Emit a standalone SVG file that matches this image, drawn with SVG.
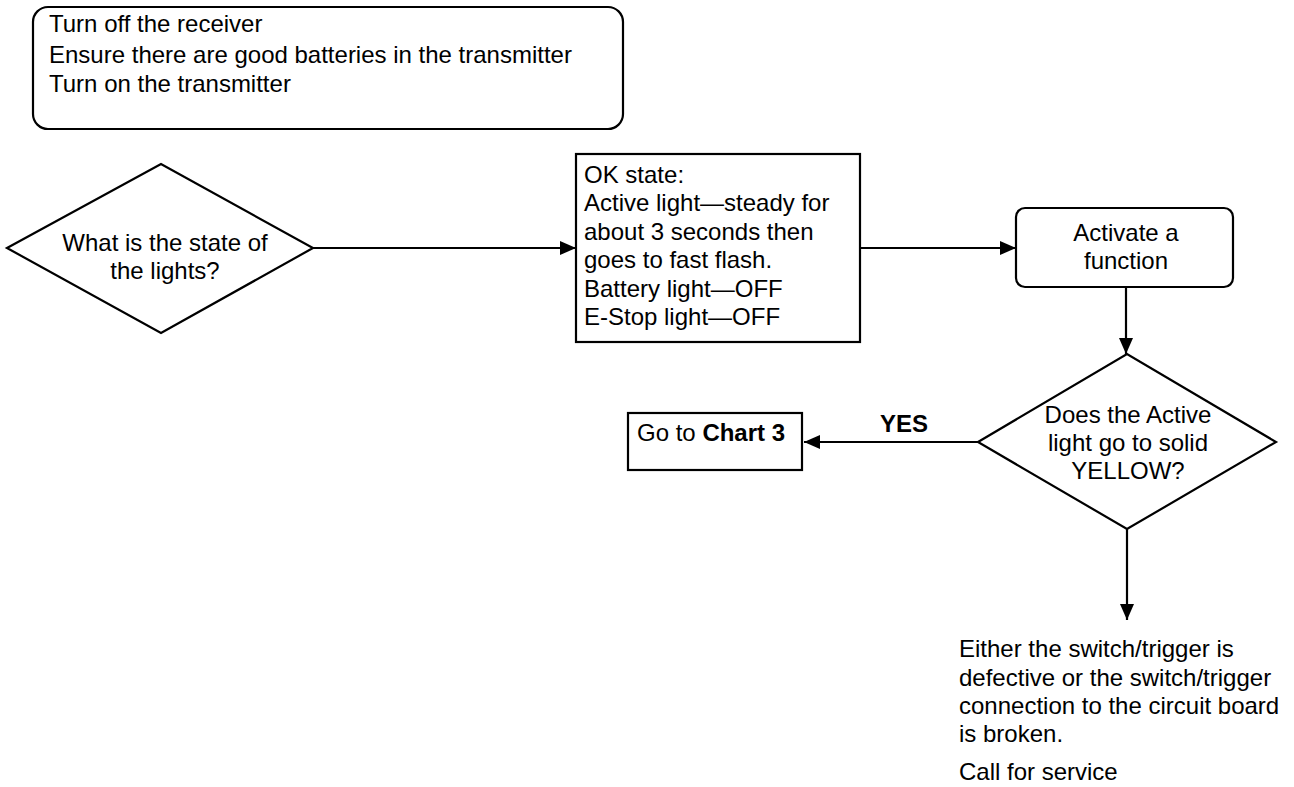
<svg xmlns="http://www.w3.org/2000/svg" width="1294" height="787" viewBox="0 0 1294 787">
<defs>
<marker id="ah" viewBox="0 0 16 14" refX="16" refY="7" markerWidth="16" markerHeight="14" markerUnits="userSpaceOnUse" orient="auto">
<path d="M0,0 L16,7 L0,14 Z" fill="#000"/>
</marker>
<style>
.s{fill:#fff;stroke:#000;stroke-width:2.2}
.t{font-family:"Liberation Sans",Arial,sans-serif;font-size:24px;fill:#000}
.c{text-anchor:middle}
.b{font-weight:bold}
.e{fill:none;stroke:#000;stroke-width:2.2}
</style>
</defs>
<rect width="1294" height="787" fill="#fff"/>
<g id="start">
<rect class="s" x="33" y="7" width="590" height="122" rx="15"/>
<text class="t" x="49" y="32">Turn off the receiver</text>
<text class="t" x="49" y="63">Ensure there are good batteries in the transmitter</text>
<text class="t" x="49" y="92">Turn on the transmitter</text>
</g>
<g id="q1">
<polygon class="s" points="7,248 161,164 313,248 161,333"/>
<text class="t c" x="165" y="251">What is the state of</text>
<text class="t c" x="165" y="279">the lights?</text>
</g>
<g id="ok">
<rect class="s" x="576" y="154" width="284" height="188"/>
<text class="t" x="584" y="183">OK state:</text>
<text class="t" x="584" y="211">Active light—steady for</text>
<text class="t" x="584" y="240">about 3 seconds then</text>
<text class="t" x="584" y="268">goes to fast flash.</text>
<text class="t" x="584" y="297">Battery light—OFF</text>
<text class="t" x="584" y="325">E-Stop light—OFF</text>
</g>
<g id="activate">
<rect class="s" x="1016" y="208" width="217" height="79" rx="9"/>
<text class="t c" x="1126" y="241">Activate a</text>
<text class="t c" x="1126" y="269">function</text>
</g>
<g id="q2">
<polygon class="s" points="978,442 1127,354 1276,442 1127,529"/>
<text class="t c" x="1128" y="423">Does the Active</text>
<text class="t c" x="1128" y="451">light go to solid</text>
<text class="t c" x="1128" y="479">YELLOW?</text>
</g>
<g id="chart3">
<rect class="s" x="628" y="413" width="174" height="57"/>
<text class="t" x="637" y="441">Go to <tspan class="b">Chart 3</tspan></text>
</g>
<g id="result">
<text class="t" x="959" y="657">Either the switch/trigger is</text>
<text class="t" x="959" y="686">defective or the switch/trigger</text>
<text class="t" x="959" y="714">connection to the circuit board</text>
<text class="t" x="959" y="742">is broken.</text>
<text class="t" x="959" y="780">Call for service</text>
</g>
<g id="connectors">
<line class="e" x1="313" y1="248" x2="576" y2="248" marker-end="url(#ah)"/>
<line class="e" x1="860" y1="248" x2="1016" y2="248" marker-end="url(#ah)"/>
<line class="e" x1="1126" y1="287" x2="1126" y2="354" marker-end="url(#ah)"/>
<line class="e" x1="978" y1="442" x2="804" y2="442" marker-end="url(#ah)"/>
<text class="t b" x="880" y="432">YES</text>
<line class="e" x1="1127" y1="529" x2="1127" y2="620" marker-end="url(#ah)"/>
</g>
</svg>
